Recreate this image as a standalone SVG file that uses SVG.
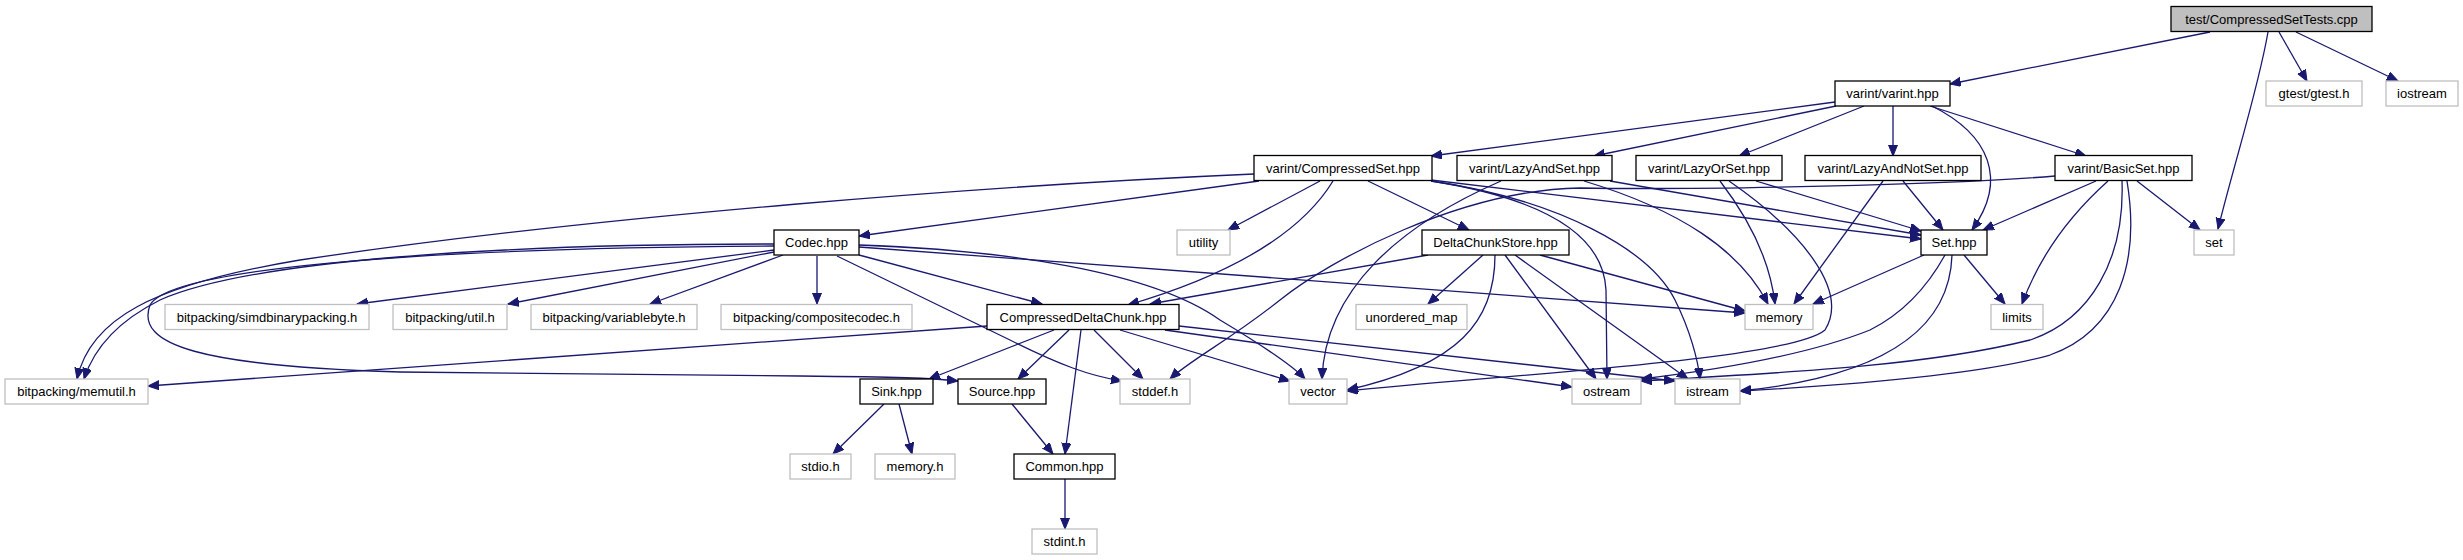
<svg xmlns="http://www.w3.org/2000/svg" width="2463" height="560" viewBox="0 0 2463 560">
<style>
.n rect{fill:#fff;stroke:#000;stroke-width:1.3}
.x rect{fill:#fff;stroke:#bfbfbf;stroke-width:1.3}
.t rect{fill:#bfbfbf;stroke:#000;stroke-width:1.3}
text{font-family:"Liberation Sans",Helvetica,Arial,sans-serif;font-size:13px;text-anchor:middle;fill:#000}
#edges path{fill:none;stroke:#191970;stroke-width:1.3;marker-end:url(#ah)}
</style>
<defs>
<marker id="ah" markerUnits="userSpaceOnUse" markerWidth="12" markerHeight="10" refX="11" refY="4.5" orient="auto">
<path d="M0,0 L11,4.5 L0,9 z" fill="#191970" stroke="#191970" stroke-width="1"/>
</marker>
</defs>
<rect width="2463" height="560" fill="#fff"/>
<g id="edges">
<path d="M2210,32 L1950,84"/>
<path d="M2268,32 C2258,90 2235,160 2218,229"/>
<path d="M2279,32 L2307,81"/>
<path d="M2296,32 L2398,81"/>
<path d="M1835,102 L1431,156"/>
<path d="M1836,106 L1594,156"/>
<path d="M1864,106 L1739,156"/>
<path d="M1893,106 L1893,156"/>
<path d="M1930,106 L2086,156"/>
<path d="M1932,106 C1990,135 2008,180 1972,230"/>
<path d="M1259,181 L859,236"/>
<path d="M1254,174 C1000,185 600,215 300,260 C150,285 90,320 77,379"/>
<path d="M774,244 C500,244 250,260 160,300 C120,320 95,345 84,379"/>
<path d="M774,246 C400,248 170,270 150,305 C135,345 200,366 400,372 L800,376 C900,377 930,378 958,381"/>
<path d="M774,250 L357,304"/>
<path d="M774,252 L508,304"/>
<path d="M783,255 L650,304"/>
<path d="M817,256 L817,304"/>
<path d="M859,255 L1042,304"/>
<path d="M837,256 L1010,340 C1060,365 1090,376 1122,381"/>
<path d="M859,245 C1000,250 1150,270 1220,320 C1270,350 1295,368 1305,379"/>
<path d="M859,247 L1745,313"/>
<path d="M1320,181 L1228,230"/>
<path d="M1333,181 C1300,235 1230,275 1128,305"/>
<path d="M1368,181 L1469,230"/>
<path d="M1431,180 L1921,239"/>
<path d="M1431,181 C1520,195 1603,225 1606,290 L1607,379"/>
<path d="M1431,181 C1560,200 1650,250 1675,300 C1690,330 1698,360 1700,379"/>
<path d="M1610,181 L1921,235"/>
<path d="M1584,181 C1680,210 1740,250 1768,304"/>
<path d="M1501,181 C1400,225 1325,290 1322,379"/>
<path d="M1756,181 L1921,231"/>
<path d="M1720,181 C1750,220 1770,260 1775,304"/>
<path d="M1729,181 C1800,230 1850,290 1825,330 C1790,360 1500,375 1347,391"/>
<path d="M1883,181 L1794,304"/>
<path d="M1903,181 L1943,230"/>
<path d="M2096,181 L1983,230"/>
<path d="M2137,181 L2200,230"/>
<path d="M2108,181 C2070,215 2040,255 2022,304"/>
<path d="M2127,181 C2140,260 2120,330 2050,355 C1980,375 1850,385 1740,391"/>
<path d="M2122,181 C2125,260 2090,320 2030,340 C1930,365 1800,372 1641,381"/>
<path d="M2055,176 C1950,185 1700,190 1580,188 C1460,190 1330,260 1280,300 C1230,340 1190,360 1170,379"/>
<path d="M1924,255 L1813,304"/>
<path d="M1964,255 L2005,304"/>
<path d="M1952,255 C1950,320 1900,375 1740,391"/>
<path d="M1945,255 C1920,300 1890,320 1870,330 C1820,350 1750,366 1641,379"/>
<path d="M1428,255 L1150,304"/>
<path d="M1483,255 L1428,304"/>
<path d="M1540,255 L1745,311"/>
<path d="M1495,255 C1495,320 1460,365 1347,390"/>
<path d="M1505,255 L1596,379"/>
<path d="M1515,255 L1688,379"/>
<path d="M987,326 L148,386"/>
<path d="M1054,330 L929,379"/>
<path d="M1069,330 L1018,379"/>
<path d="M1081,330 L1065,454"/>
<path d="M1094,330 L1143,379"/>
<path d="M1120,330 L1290,381"/>
<path d="M1165,330 L1572,387"/>
<path d="M1179,326 L1675,381"/>
<path d="M884,404 L833,454"/>
<path d="M899,404 L912,454"/>
<path d="M1012,404 L1053,454"/>
<path d="M1065,479 L1065,529"/>
</g>
<g id="n_test" class="t"><rect x="2171" y="6.5" width="201" height="25"/><text x="2271.5" y="23.5">test/CompressedSetTests.cpp</text></g>
<g id="n_varint" class="n"><rect x="1835" y="81" width="115" height="25"/><text x="1892.5" y="98">varint/varint.hpp</text></g>
<g id="n_gtest" class="x"><rect x="2266" y="81" width="96" height="25"/><text x="2314" y="98">gtest/gtest.h</text></g>
<g id="n_iostream" class="x"><rect x="2386" y="81" width="72" height="25"/><text x="2422" y="98">iostream</text></g>
<g id="n_cset" class="n"><rect x="1254" y="155.5" width="178" height="25"/><text x="1343" y="172.5">varint/CompressedSet.hpp</text></g>
<g id="n_lazyand" class="n"><rect x="1457" y="155.5" width="155" height="25"/><text x="1534.5" y="172.5">varint/LazyAndSet.hpp</text></g>
<g id="n_lazyor" class="n"><rect x="1636" y="155.5" width="146" height="25"/><text x="1709" y="172.5">varint/LazyOrSet.hpp</text></g>
<g id="n_lazyandnot" class="n"><rect x="1805" y="155.5" width="176" height="25"/><text x="1893" y="172.5">varint/LazyAndNotSet.hpp</text></g>
<g id="n_basicset" class="n"><rect x="2055" y="155.5" width="137" height="25"/><text x="2123.5" y="172.5">varint/BasicSet.hpp</text></g>
<g id="n_codec" class="n"><rect x="774" y="230" width="85" height="25"/><text x="816.5" y="247">Codec.hpp</text></g>
<g id="n_utility" class="x"><rect x="1177" y="230" width="53" height="25"/><text x="1203.5" y="247">utility</text></g>
<g id="n_dcs" class="n"><rect x="1422" y="230" width="147" height="25"/><text x="1495.5" y="247">DeltaChunkStore.hpp</text></g>
<g id="n_sethpp" class="n"><rect x="1921" y="230" width="66" height="25"/><text x="1954" y="247">Set.hpp</text></g>
<g id="n_set" class="x"><rect x="2194" y="230" width="40" height="25"/><text x="2214" y="247">set</text></g>
<g id="n_simd" class="x"><rect x="165" y="304.5" width="204" height="25"/><text x="267" y="321.5">bitpacking/simdbinarypacking.h</text></g>
<g id="n_util" class="x"><rect x="393" y="304.5" width="114" height="25"/><text x="450" y="321.5">bitpacking/util.h</text></g>
<g id="n_vb" class="x"><rect x="531" y="304.5" width="166" height="25"/><text x="614" y="321.5">bitpacking/variablebyte.h</text></g>
<g id="n_cc" class="x"><rect x="721" y="304.5" width="191" height="25"/><text x="816.5" y="321.5">bitpacking/compositecodec.h</text></g>
<g id="n_cdc" class="n"><rect x="987" y="304.5" width="192" height="25"/><text x="1083" y="321.5">CompressedDeltaChunk.hpp</text></g>
<g id="n_umap" class="x"><rect x="1356" y="304.5" width="111" height="25"/><text x="1411.5" y="321.5">unordered_map</text></g>
<g id="n_memory" class="x"><rect x="1745" y="304.5" width="68" height="25"/><text x="1779" y="321.5">memory</text></g>
<g id="n_limits" class="x"><rect x="1991" y="304.5" width="52" height="25"/><text x="2017" y="321.5">limits</text></g>
<g id="n_memutil" class="x"><rect x="5" y="379" width="143" height="25"/><text x="76.5" y="396">bitpacking/memutil.h</text></g>
<g id="n_sink" class="n"><rect x="860" y="379" width="73" height="25"/><text x="896.5" y="396">Sink.hpp</text></g>
<g id="n_source" class="n"><rect x="958" y="379" width="88" height="25"/><text x="1002" y="396">Source.hpp</text></g>
<g id="n_stddef" class="x"><rect x="1120" y="379" width="70" height="25"/><text x="1155" y="396">stddef.h</text></g>
<g id="n_vector" class="x"><rect x="1289" y="379" width="58" height="25"/><text x="1318" y="396">vector</text></g>
<g id="n_ostream" class="x"><rect x="1572" y="379" width="69" height="25"/><text x="1606.5" y="396">ostream</text></g>
<g id="n_istream" class="x"><rect x="1675" y="379" width="65" height="25"/><text x="1707.5" y="396">istream</text></g>
<g id="n_stdio" class="x"><rect x="790" y="454" width="61" height="25"/><text x="820.5" y="471">stdio.h</text></g>
<g id="n_memoryh" class="x"><rect x="875" y="454" width="80" height="25"/><text x="915" y="471">memory.h</text></g>
<g id="n_common" class="n"><rect x="1014" y="454" width="101" height="25"/><text x="1064.5" y="471">Common.hpp</text></g>
<g id="n_stdint" class="x"><rect x="1032" y="529" width="65" height="25"/><text x="1064.5" y="546">stdint.h</text></g>
</svg>
